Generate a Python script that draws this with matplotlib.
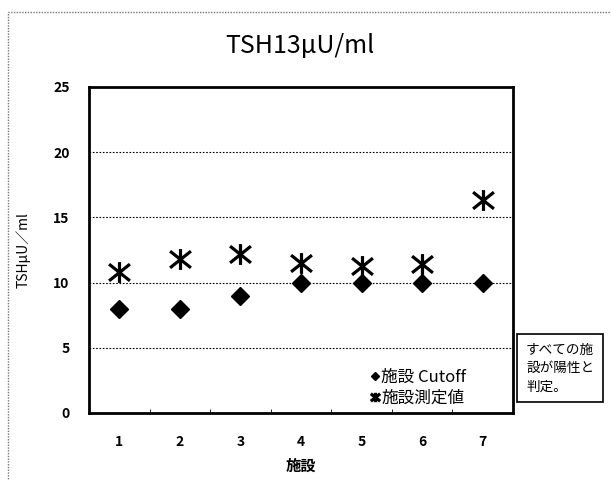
import numpy as np
import matplotlib.pyplot as plt
from matplotlib.path import Path
from matplotlib.patches import Rectangle

plt.rcParams['font.family'] = ['Noto Sans CJK JP', 'DejaVu Sans']

# facility number and the two series
sites = [1, 2, 3, 4, 5, 6, 7]
cutoff = [8, 8, 9, 10, 10, 10, 10]
measured = [10.8, 11.8, 12.2, 11.5, 11.3, 11.4, 16.3]
yticks = [0, 5, 10, 15, 20, 25]

# x with a vertical bar, like the spreadsheet "star" marker
star = Path([(-1, -0.8), (1, 0.8), (-1, 0.8), (1, -0.8), (0, -1.0), (0, 1.0)],
            [Path.MOVETO, Path.LINETO, Path.MOVETO, Path.LINETO, Path.MOVETO, Path.LINETO])

fig = plt.figure(figsize=(6.11, 4.80), dpi=100)
ax = fig.add_axes([0.1457, 0.1396, 0.6939, 0.6792])

# outer border of the chart area
fig.patches.append(Rectangle((0.013, -0.1), 1.1, 1.075, transform=fig.transFigure,
                             fill=False, ec='#777777', lw=1, ls=(0, (1, 1))))

ax.plot(sites, cutoff, ls='none', marker='D', ms=9, color='black', label='施設 Cutoff')
ax.plot(sites, measured, ls='none', marker=star, ms=15, mew=2.3, color='black',
        label='施設測定値')

ax.set_xlim(0.5, 7.5)
ax.set_ylim(0, 25)
ax.set_yticks(yticks)
ax.set_xticks(sites)
ax.set_xticks(np.arange(0.5, 8, 1), minor=True)
ax.tick_params(axis='x', which='major', length=0, pad=16, labelsize=10)
ax.tick_params(axis='x', which='minor', length=3, direction='in')
ax.tick_params(axis='y', length=0, pad=14, labelsize=10)
for lab in ax.get_xticklabels() + ax.get_yticklabels():
    lab.set_fontweight('bold')

for y in yticks[1:-1]:
    ax.axhline(y, color='black', lw=0.8, ls=(0, (1.5, 1.5)), zorder=0)

for s in ax.spines.values():
    s.set_linewidth(2)

fig.text(0.49, 0.905, 'TSH13\u03bcU/ml', ha='center', va='center', fontsize=18)
ax.set_ylabel('TSH\u03bcU／ml', fontsize=10, labelpad=16)
ax.set_xlabel('施設', fontsize=11, fontweight='bold', labelpad=6)

ax.legend(loc='lower right', bbox_to_anchor=(0.89, 0.02), frameon=False, fontsize=12,
          handletextpad=0.1, handlelength=0.6, markerscale=0.45, borderaxespad=0,
          borderpad=0, labelspacing=0.2)

fig.text(0.861, 0.233, 'すべての施\n設が陽性と\n判定。', fontsize=9.8, va='center',
         ha='left', linespacing=1.4,
         bbox=dict(boxstyle='square,pad=0.65', fc='white', ec='black', lw=1.2))

fig.savefig('out.png', dpi=100)
